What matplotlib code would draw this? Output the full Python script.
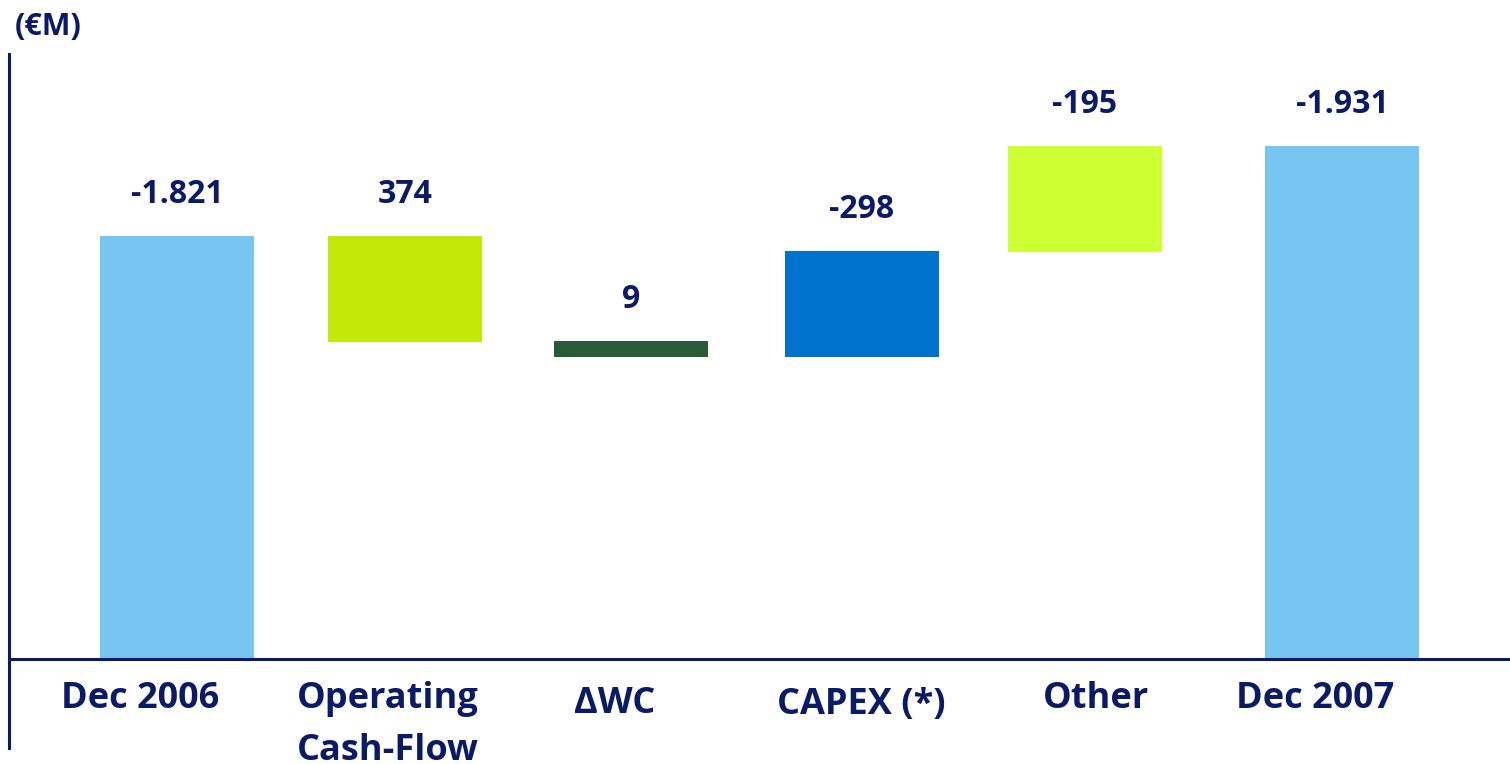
import matplotlib
matplotlib.use("Agg")
import matplotlib.pyplot as plt

# net debt bridge, €M
categories = ["Dec 2006", "Operating\nCash-Flow", "\u0394WC", "CAPEX (*)", "Other", "Dec 2007"]
values = [-1821, 374, 9, -298, -195, -1931]
value_labels = ["-1.821", "374", "9", "-298", "-195", "-1.931"]

# bar extents as drawn in the original (the slide is not to scale)
bar_low = [0, 1365, 1300, 1300, 1752, 0]
bar_high = [1821, 1821, 1369, 1756, 2208, 2208]

navy = "#0b1a66"
colors = ["#76c6f1", "#c5e80b", "#2a5a38", "#0073cf", "#cdff33", "#76c6f1"]

# layout
xpos = [0, 1, 1.991, 3.004, 3.982, 5.11]
label_x = [-0.16, 0.925, 1.92, 3.0, 4.03, 4.99]
label_drop = [0, 0, 5, 6, 0, 0]  # px, extra drop of some category labels
font = ["Open Sans", "DejaVu Sans"]
px = 0.72  # points per pixel at 100 dpi

fig = plt.figure(figsize=(15.1, 7.64), dpi=100)
ax = fig.add_axes([9 / 1510, 16 / 764, 1 - 9 / 1510, 694 / 764])

heights = [h - l for h, l in zip(bar_high, bar_low)]
ax.bar(xpos, heights, bottom=bar_low, width=0.675, color=colors, zorder=2)

for x, top, lab in zip(xpos, bar_high, value_labels):
    ax.annotate(lab, (x, top), xytext=(0, 33 * px), textcoords="offset points",
                ha="center", va="baseline", fontsize=23, fontweight="bold",
                color=navy, family=font)

for x, cat, drop in zip(label_x, categories, label_drop):
    for i, line in enumerate(cat.split("\n")):
        ax.annotate(line, (x, 0), xytext=(0, -(49 + drop + 52 * i) * px),
                    textcoords="offset points", ha="center", va="baseline",
                    fontsize=26, fontweight="bold", color=navy, family=font)

ax.axhline(0, color=navy, lw=2.2, zorder=3)
ax.set_xlim(-0.737, 5.846)
ax.set_ylim(-383, 2604)
for s in ["top", "right", "bottom"]:
    ax.spines[s].set_visible(False)
ax.spines["left"].set_color(navy)
ax.spines["left"].set_linewidth(2.2)
ax.set_xticks([])
ax.set_yticks([])

fig.text(48 / 1510, 1 - 35 / 764, "(\u20acM)", ha="center", va="baseline",
         fontsize=22, fontweight="bold", color=navy, family=font)

fig.savefig("out.png", dpi=100)
